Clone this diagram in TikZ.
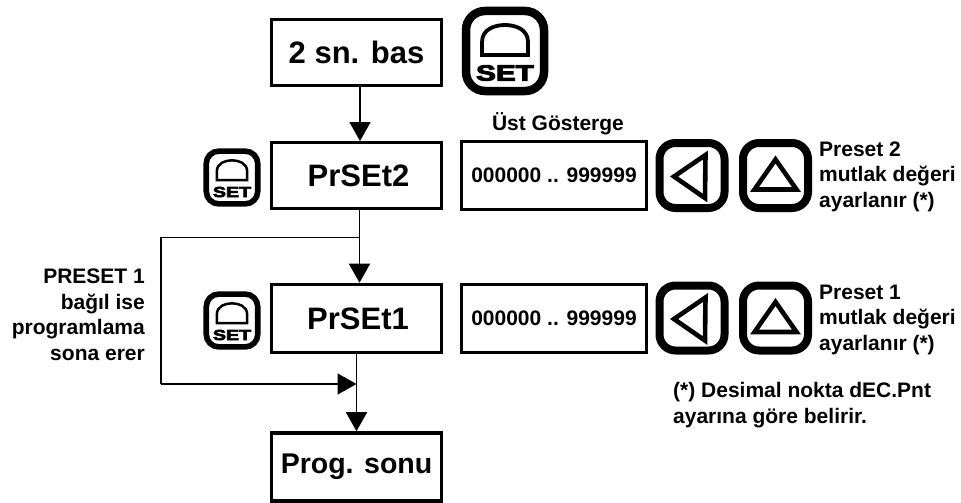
\documentclass[tikz,border=0pt]{standalone}
\usepackage{fontspec}
\setmainfont{Liberation Sans}
\usetikzlibrary{arrows.meta,positioning}
\tikzset{
  x=1pt,y=-1pt,
  flow/.style={draw=black,line width=3.6pt,minimum width=170pt,inner sep=0pt,font=\bfseries\fontsize{31}{34}\selectfont},
  disp/.style={draw=black,line width=3.2pt,minimum width=185pt,minimum height=68pt,inner sep=0pt,font=\bfseries\fontsize{21}{24}\selectfont},
  note/.style={inner sep=0pt,font=\bfseries\fontsize{21}{25.5}\selectfont,align=left},
  noter/.style={note,align=right},
  conn/.style={line width=1.7pt},
  tip/.style={-{Triangle[length=19pt,width=21pt]}},
}
% SET key: #1 centre, #2 scale, #3 name
\newcommand{\setkey}[3]{%
  \begin{scope}[shift={#1},scale=#2]
    \draw[black,line width=#2*8.5pt,rounded corners=#2*19pt,fill=white] (-39,-40) rectangle (39,40);
    \draw[black,line width=#2*3.8pt,line join=miter] (-23,4) -- (23,4) -- (23,-9) .. controls (23,-22) and (10,-26) .. (0,-26) .. controls (-10,-26) and (-23,-22) .. (-23,-9) -- cycle;
    \node[inner sep=0pt,transform shape,xscale=1.35,font=\bfseries\fontsize{22}{22}\selectfont] (#3) at (0,22) {\special{pdf:literal direct 2 Tr 0.9 w}SET\special{pdf:literal direct 0 Tr 0 w}};
  \end{scope}}
% triangle key: #1 centre, #2 name, #3 triangle path
\newcommand{\trikey}[3]{%
  \node[draw=black,line width=8pt,rounded corners=16pt,minimum width=65pt,minimum height=65pt,inner sep=0pt] (#2) at #1 {};
  \begin{scope}[shift={#1}]
    \draw[black,line width=4.6pt,line join=miter,miter limit=10] #3 -- cycle;
  \end{scope}}
\begin{document}
\begin{tikzpicture}
\useasboundingbox (0,0) rectangle (961,503);
\node[flow,minimum height=66pt] (a) at (356.5,52.5) {2 sn. bas};
\node[flow,minimum height=66pt] (b) at (356.5,175.5) {\hspace{4pt}PrSEt2};
\node[flow,minimum height=68pt] (c) at (356.5,318.5) {\hspace{3pt}PrSEt1};
\node[flow,minimum height=68pt,font=\bfseries\fontsize{28.5}{32}\selectfont] (d) at (356.5,467) {Prog. sonu};
\node[disp] (e) at (554,175.5) {000000 .. 999999};
\node[disp] (f) at (554,318.5) {000000 .. 999999};
\node[inner sep=0pt,anchor=base,font=\bfseries\fontsize{21}{24}\selectfont] (g) at (558,130) {Üst Gösterge};
\setkey{(505,51)}{1}{k1}
\setkey{(232,177.5)}{0.66}{k2}
\setkey{(232,320.5)}{0.66}{k3}
\trikey{(692,175.5)}{l1}{(-18,1) -- (13.5,-20.5) -- (13,22.5)}
\trikey{(775.5,175.5)}{u1}{(0,-16) -- (-21,14) -- (21,14)}
\trikey{(692,318)}{l2}{(-18,1) -- (13.5,-20.5) -- (13,22.5)}
\trikey{(775.5,318)}{u2}{(0,-16) -- (-21,14) -- (21,14)}
\node[note,anchor=base west] (n1) at (819,207) {Preset 2\\mutlak değeri\\ayarlanır (*)};
\node[note,anchor=base west] (n2) at (819,350) {Preset 1\\mutlak değeri\\ayarlanır (*)};
\node[note,anchor=base west] (n3) at (673,423) {(*) Desimal nokta dEC.Pnt\\ayarına göre belirir.};
\node[noter,anchor=base east] (n4) at (145,360) {PRESET 1\\bağıl ise\\programlama\\sona erer};
\coordinate (j1) at (359.5,237.5);
\coordinate (c1) at (161,237.5);
\coordinate (c2) at (161,384);
\coordinate (j2) at (356.5,384);
\draw[conn,tip] (a.south -| 360,0) -- (360,141);
\draw[conn,tip] (b.south -| j1) -- (c.north -| j1);
\draw[conn] (j1) -- (c1) -- (c2);
\draw[conn,tip] (c2) -- (j2);
\draw[conn,tip] (c.south -| j2) -- (d.north -| j2);
\end{tikzpicture}
\end{document}
